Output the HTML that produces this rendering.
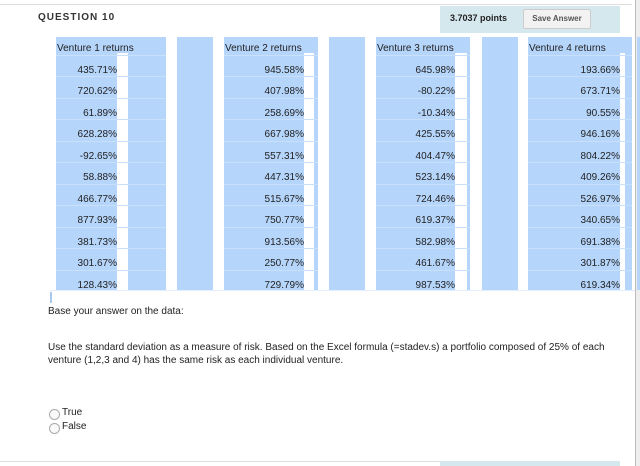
<!DOCTYPE html>
<html><head><meta charset="utf-8"><style>
body{margin:0;width:640px;height:466px;background:#fff;position:relative;overflow:hidden;font-family:"Liberation Sans",sans-serif;color:#222}
.a{position:absolute}
.blue{position:absolute;background:#b5d5fb}
.w{position:absolute;background:#fff}
.t{position:absolute;font-size:10px;white-space:nowrap}
.r{text-align:right}
.rl{position:absolute;height:1px;background:#c8e0fc}
</style></head><body>
<div class="a" style="left:0;top:4px;width:632px;height:1px;background:#ddd"></div>
<div class="a" style="left:635px;top:0;width:1px;height:466px;background:#bbb"></div>
<div class="a" style="left:636px;top:0;width:4px;height:466px;background:#eee"></div>
<div class="t" style="left:38px;top:12px;font-size:10px;font-weight:bold;letter-spacing:1px;color:#333">QUESTION 10</div>
<div class="a" style="left:440px;top:6px;width:180px;height:27px;background:#d5e8ee"></div>
<div class="t" style="left:450px;top:13px;font-weight:bold;font-size:9px">3.7037 points</div>
<div class="a" style="left:523px;top:9px;width:66px;height:18px;background:#f2f2f2;border:1px solid #ccc;border-radius:2px;font-size:8px;font-weight:bold;color:#555;text-align:center;line-height:18px">Save Answer</div>
<div id="tbl"></div>
<div class="a" style="left:50px;top:292px;width:2px;height:11px;background:#a8c8f0"></div>
<div class="a" style="left:50px;top:290px;width:585px;height:1px;background:#e2eefc"></div>
<div class="t" style="left:48px;top:306px">Base your answer on the data:</div>
<div class="t" style="left:48px;top:341px;line-height:13px">Use the standard deviation as a measure of risk. Based on the Excel formula (=stadev.s) a portfolio composed of 25% of each<br>venture (1,2,3 and 4) has the same risk as each individual venture.</div>
<div class="a" style="left:49px;top:409px;width:9px;height:9px;border:1px solid #aaa;border-radius:50%;background:#fafafa"></div>
<div class="t" style="left:62px;top:407px">True</div>
<div class="a" style="left:49px;top:423px;width:9px;height:9px;border:1px solid #aaa;border-radius:50%;background:#fafafa"></div>
<div class="t" style="left:62px;top:421px">False</div>
<div class="a" style="left:0;top:461px;width:440px;height:1px;background:#ddd"></div>
<div class="a" style="left:440px;top:461px;width:180px;height:5px;background:#d5e8ee"></div>
<script>
var headers=["Venture 1 returns","Venture 2 returns","Venture 3 returns","Venture 4 returns"];
var v1=["435.71%","720.62%","61.89%","628.28%","-92.65%","58.88%","466.77%","877.93%","381.73%","301.67%","128.43%"];
var v2=["945.58%","407.98%","258.69%","667.98%","557.31%","447.31%","515.67%","750.77%","913.56%","250.77%","729.79%"];
var v3=["645.98%","-80.22%","-10.34%","425.55%","404.47%","523.14%","724.46%","619.37%","582.98%","461.67%","987.53%"];
var v4=["193.66%","673.71%","90.55%","946.16%","804.22%","409.26%","526.97%","340.65%","691.38%","301.87%","619.34%"];
var cols=[v1,v2,v3,v4];
var tbl=document.getElementById('tbl');
var colX=[56,224,376,528], colW=[110,94,94,104], notchX=[117,304,455,620], notchW=[11,10,12,5];
var spacerX=[177,329,482];
var top0=37,rowH=21.5,bottom=290;
function mk(cls,css){var d=document.createElement('div');d.className=cls;d.style.cssText=css;tbl.appendChild(d);return d;}
for(var c=0;c<4;c++){
  var x=colX[c];
  var b=mk('blue','left:'+x+'px;top:'+top0+'px;width:'+colW[c]+'px;height:'+(bottom-top0)+'px');
  
  
  var n=mk('w','left:'+notchX[c]+'px;top:'+(top0+16)+'px;width:'+notchW[c]+'px;height:'+(bottom-top0-16)+'px');
  
  
  if(c<3){
    var s=mk('blue','left:'+spacerX[c]+'px;top:'+top0+'px;width:36px;height:'+(bottom-top0)+'px');
    
    
  }
  var h=mk('t','left:'+(x+1)+'px;top:'+(top0+6)+'px');
  h.textContent=headers[c];
  
  
  for(var r=0;r<cols[c].length;r++){
    var y=top0+rowH*(r+1);
    var l=mk('rl','left:'+x+'px;top:'+Math.round(y-4)+'px;width:'+colW[c]+'px');
    
    
    var cell=mk('t r','left:'+x+'px;top:'+Math.round(y+6)+'px;width:'+(notchX[c]-x)+'px');
    cell.textContent=cols[c][r];
    
    
  }
}
var e=mk('blue','left:637px;top:'+top0+'px;width:3px;height:'+(bottom-top0)+'px');


</script>
</body></html>
